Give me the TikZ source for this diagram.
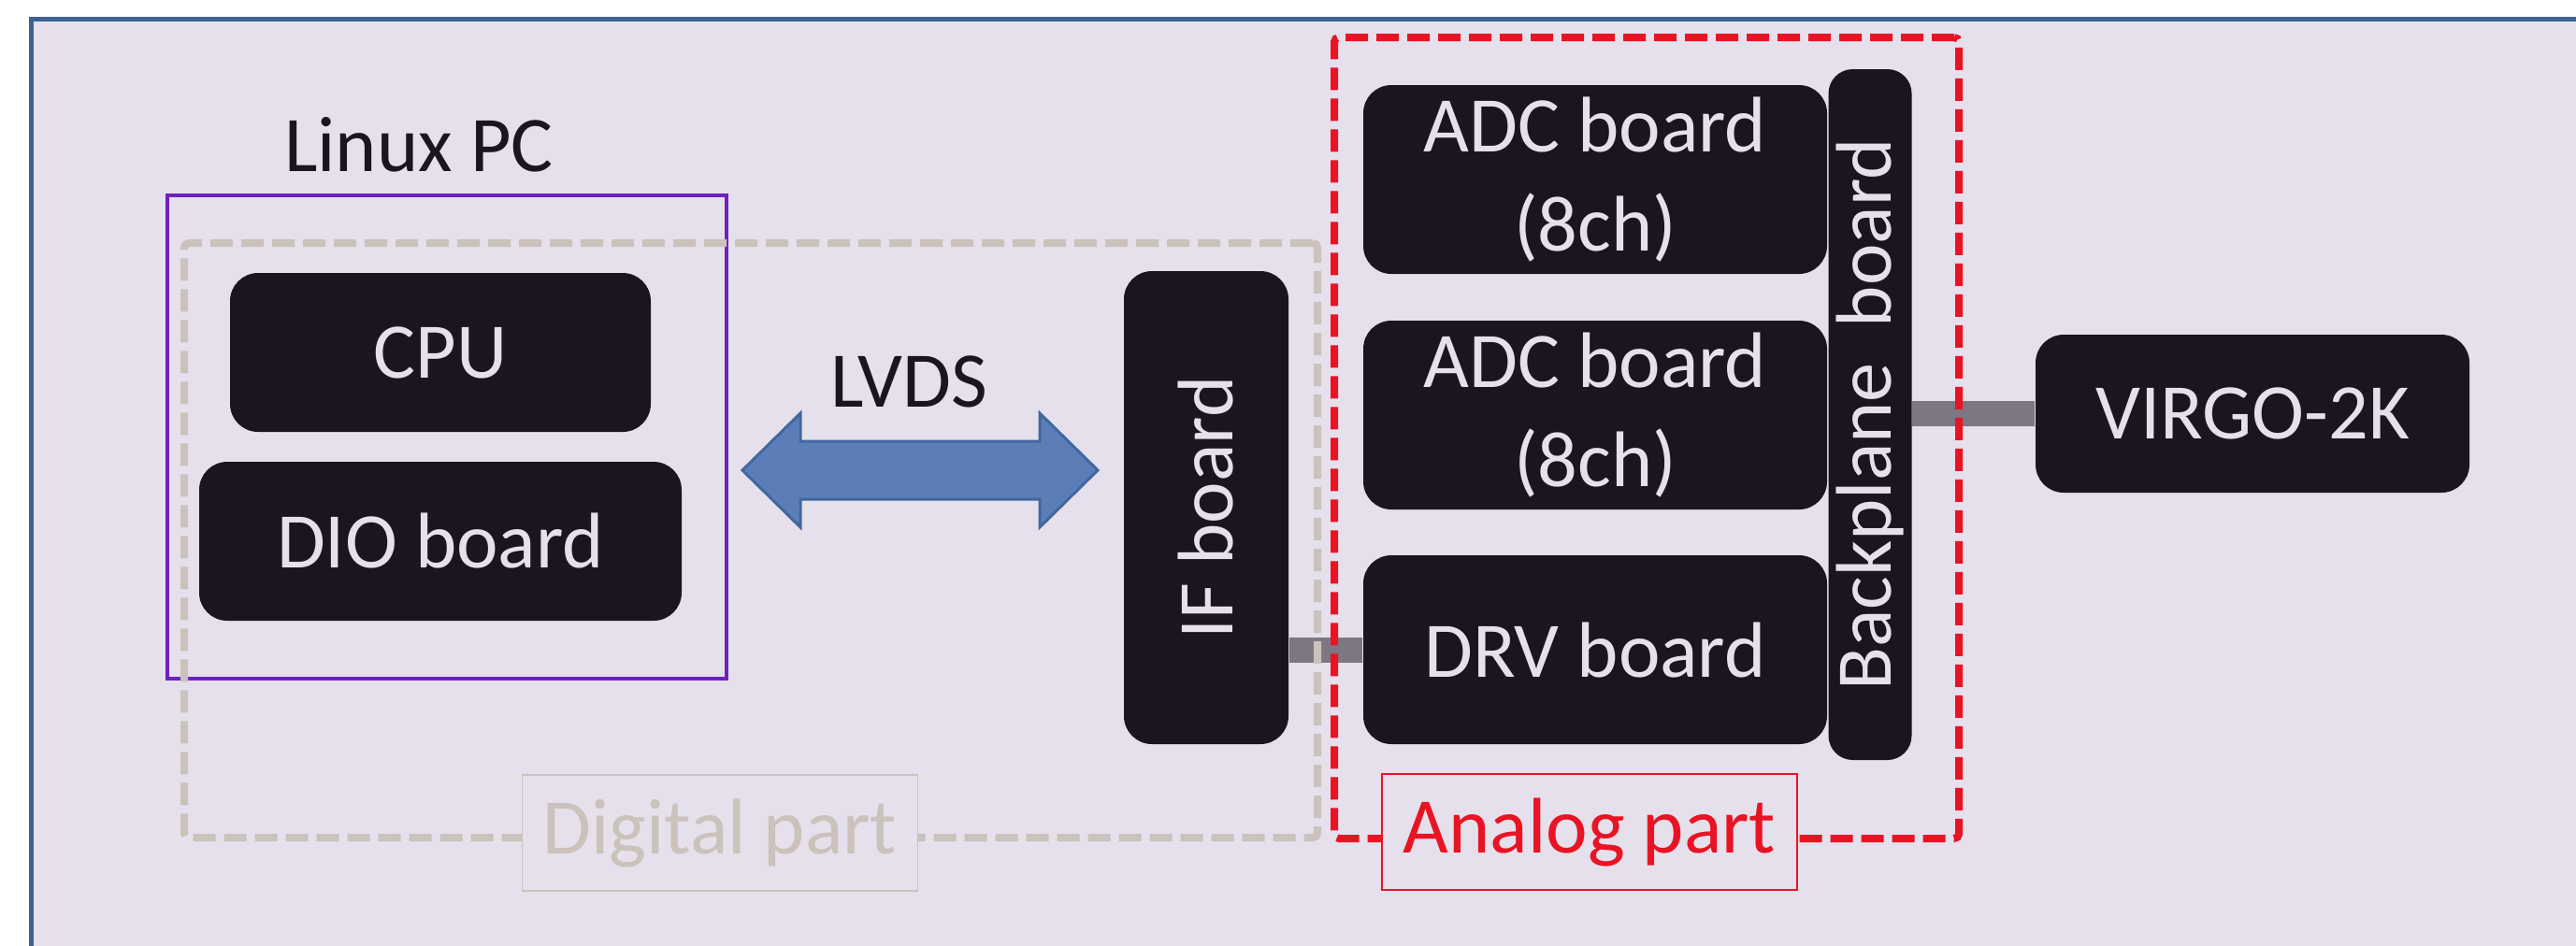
\documentclass[tikz,border=0pt]{standalone}
\usepackage{fontspec}
\setmainfont{Carlito}
\usetikzlibrary{positioning}
\definecolor{framefill}{RGB}{230,224,236}
\definecolor{frameline}{RGB}{60,98,145}
\definecolor{boardfill}{RGB}{27,21,32}
\definecolor{pcline}{RGB}{112,32,192}
\definecolor{analogred}{RGB}{232,20,36}
\definecolor{digitalgray}{RGB}{202,194,187}
\definecolor{linkgray}{RGB}{125,119,132}
\definecolor{lvdsfill}{RGB}{91,126,185}
\definecolor{lvdsline}{RGB}{65,104,158}

\begin{document}
\begin{tikzpicture}
  [
  x=0.1mm, y=-0.1mm,
  font=\fontsize{24}{30}\selectfont,
  board/.style={rectangle, rounded corners=3mm, inner sep=0pt, fill=boardfill, text=framefill, align=center},
  linkbar/.style={draw=linkgray, line width=2.7mm},
  partbox/.style={rectangle, inner sep=0pt, line width=0.8mm, dash pattern=on 2.4mm off 0.9mm, rounded corners=0.5mm},
  partlabel/.style={rectangle, inner sep=0pt, fill=framefill, line width=0.4pt, minimum height=12.4mm},
  ]

\clip (0,0) rectangle (2755,1011);
\fill[white] (0,0) rectangle (2755,1011);
\draw[draw=frameline,fill=framefill,line width=0.5mm] (33,20) rectangle (2830,1090);

% Linux PC
\node[draw=pcline, line width=0.4mm, minimum width=59.8mm, minimum height=51.7mm] (pc) at (478,467.5) {};
\node[text=boardfill] (pclabel) at (448,155) {Linux PC};

% boards
\node[board, minimum width=45mm, minimum height=17mm] (cpu) at (471,377) {CPU};
\node[board, minimum width=51.6mm, minimum height=17mm] (dio) at (471,579) {DIO board};
\node[board, rotate=90, minimum width=50.6mm, minimum height=17.6mm] (ifb) at (1290,543) {IF board};
\node[board, minimum width=49.6mm, minimum height=20.2mm] (adca) at (1706,192) {ADC board\\(8ch)};
\node[board, minimum width=49.6mm, minimum height=20.2mm] (adcb) at (1706,444) {ADC board\\(8ch)};
\node[board, minimum width=49.6mm, minimum height=20.2mm] (drv) at (1706,695) {DRV board};
\node[board, rotate=90, rounded corners=2.6mm, minimum width=73.9mm, minimum height=8.9mm] (bp) at (2000,443.5) {Backplane~~board};
\node[board, minimum width=46.4mm, minimum height=16.9mm] (virgo) at (2409,442.5) {VIRGO-2K};

% links
\draw[linkbar] (drv.west) -- (drv.west -| ifb.south);
\draw[linkbar] (virgo.west) -- (virgo.west -| bp.south);

% LVDS
\draw[draw=lvdsline,fill=lvdsfill,line width=0.3mm,line join=miter]
  (794,503) -- (856,442) -- (856,472) -- (1112,472) -- (1112,442) -- (1174,503)
  -- (1112,564) -- (1112,534) -- (856,534) -- (856,564) -- cycle;
\node[text=boardfill] (lvds) at (972,408) {LVDS};

% parts
\node[partbox, draw=digitalgray, minimum width=121.2mm, minimum height=63.6mm] (digital) at (803,578) {};
\node[partbox, draw=analogred, minimum width=66.8mm, minimum height=85.7mm] (analog) at (1761,468.5) {};
\node[partlabel, draw=digitalgray, text=digitalgray, minimum width=42.3mm] (diglabel) at (770,891) {Digital part};
\node[partlabel, draw=analogred, text=analogred, minimum width=44.4mm] (analabel) at (1700,890) {Analog part};
\end{tikzpicture}
\end{document}
